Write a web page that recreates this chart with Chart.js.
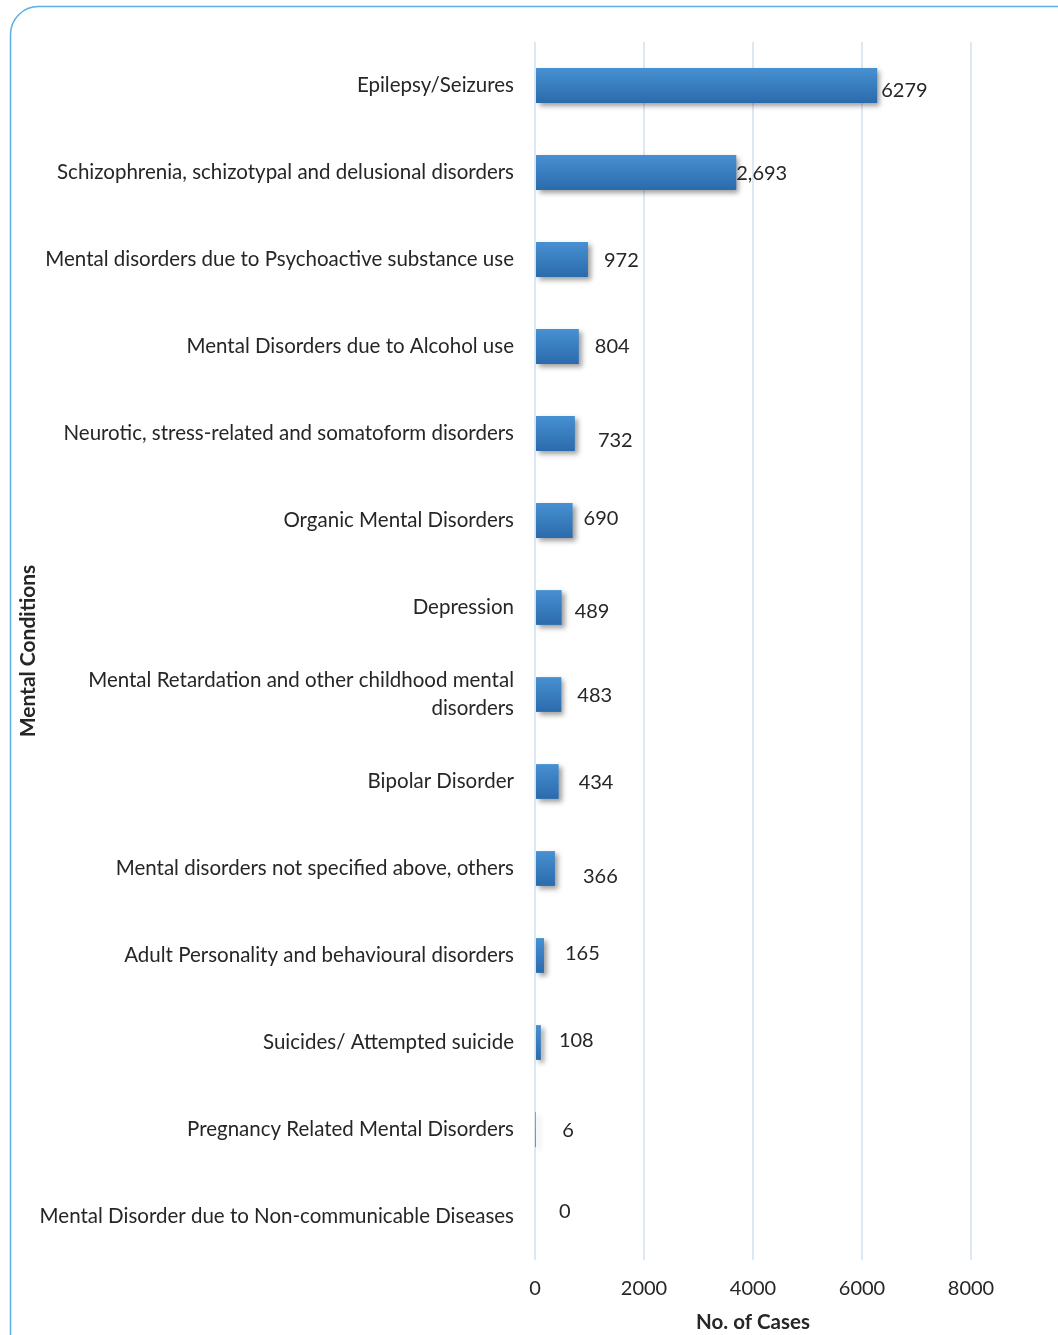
<!DOCTYPE html>
<html>
<head>
<meta charset="utf-8">
<script src="https://cdn.jsdelivr.net/npm/chart.js@4.4.1/dist/chart.umd.min.js"></script>
<style>
  html, body { margin: 0; padding: 0; background: #ffffff; }
  #wrap { width: 1058px; height: 1335px; position: relative; }
</style>
</head>
<body>
<div id="wrap"><canvas id="c" width="1058" height="1335"></canvas></div>
<script>
// ---- data ----
const categories = [
  'Epilepsy/Seizures',
  'Schizophrenia, schizotypal and delusional disorders',
  'Mental disorders due to Psychoactive substance use',
  'Mental Disorders due to Alcohol use',
  'Neurotic, stress-related and somatoform disorders',
  'Organic Mental Disorders',
  'Depression',
  ['Mental Retardation and other childhood mental', 'disorders'],
  'Bipolar Disorder',
  'Mental disorders not specified above, others',
  'Adult Personality and behavioural disorders',
  'Suicides/ Attempted suicide',
  'Pregnancy Related Mental Disorders',
  'Mental Disorder due to Non-communicable Diseases'
];
const caseCounts = [6279, 3693, 972, 804, 732, 690, 489, 483, 434, 366, 165, 108, 6, 0];
const valueLabels = ['6279', '2,693', '972', '804', '732', '690', '489', '483', '434', '366', '165', '108', '6', '0'];
const xTicks = [0, 2000, 4000, 6000, 8000];

// ---- styling (label nudges from the bar end, px) ----
const labelNudge = [[4,5],[0,1],[16,1],[16,0],[23,7],[11,-2],[13,4],[16,1],[20,1],[28,8],[21,-2],[18,-2],[27,1],[24,-5]];

const FONT = 'Lato, "Open Sans", sans-serif';
const TEXT = '#262626';

const framePlugin = {
  id: 'frame',
  beforeDraw(chart) {
    const ctx = chart.ctx;
    ctx.save();
    ctx.fillStyle = '#ffffff';
    ctx.fillRect(0, 0, chart.width, chart.height);
    ctx.strokeStyle = '#5fade8';
    ctx.lineWidth = 1.5;
    ctx.beginPath();
    ctx.roundRect(10.5, 6.5, 1200, 1500, 28);
    ctx.stroke();
    ctx.restore();
  }
};

const shadowPlugin = {
  id: 'barShadow',
  beforeDatasetsDraw(chart) {
    const ctx = chart.ctx;
    ctx.save();
    ctx.shadowColor = 'rgba(0,0,0,0.38)';
    ctx.shadowBlur = 5;
    ctx.shadowOffsetX = 3;
    ctx.shadowOffsetY = 3;
  },
  afterDatasetsDraw(chart) {
    chart.ctx.restore();
    const ctx = chart.ctx;
    const meta = chart.getDatasetMeta(0);
    ctx.save();
    ctx.font = '20px ' + FONT;
    ctx.fillStyle = TEXT;
    ctx.textAlign = 'left';
    ctx.textBaseline = 'middle';
    meta.data.forEach((bar, i) => {
      const n = labelNudge[i] || [0, 0];
      ctx.fillText(valueLabels[i], bar.x + n[0], bar.y + n[1]);
    });
    ctx.restore();
  }
};

function barFill(c) {
  const ch = c.chart;
  const ys = ch.scales && ch.scales.y;
  if (!ys || !ch.chartArea || c.dataIndex === undefined) return '#3a7fc1';
  const y = ys.getPixelForValue(c.dataIndex);
  if (!isFinite(y)) return '#3a7fc1';
  const h = 18;
  const g = ch.ctx.createLinearGradient(0, y - h, 0, y + h);
  g.addColorStop(0, '#4791d2');
  g.addColorStop(1, '#2a6aab');
  return g;
}

const ctx = document.getElementById('c').getContext('2d');
new Chart(ctx, {
  type: 'bar',
  data: {
    labels: categories,
    datasets: [{
      data: caseCounts,
      backgroundColor: barFill,
      borderWidth: 0,
      categoryPercentage: 1,
      barPercentage: 0.40
    }]
  },
  options: {
    indexAxis: 'y',
    responsive: false,
    animation: false,
    devicePixelRatio: 1,
    layout: { padding: { left: 0, right: 87, top: 42, bottom: 0 } },
    plugins: { legend: { display: false }, tooltip: { enabled: false } },
    scales: {
      x: {
        min: 0, max: 8000,
        afterBuildTicks(scale) { scale.ticks = xTicks.map(v => ({ value: v })); },
        afterFit(scale) { scale.height = 75; },
        grid: { color: '#dce8f4', lineWidth: 2, drawTicks: false },
        border: { display: false },
        ticks: { color: TEXT, font: { family: FONT, size: 20 }, padding: 17,
                 callback: v => String(v) },
        title: { display: true, text: 'No. of Cases', color: TEXT,
                 font: { family: FONT, size: 20.5, weight: 'bold' }, padding: { top: 3, bottom: 0 } }
      },
      y: {
        afterFit(scale) { scale.width = 535; },
        grid: { display: false, drawTicks: false },
        border: { display: false },
        ticks: { color: TEXT, font: { family: FONT, size: 20.5, lineHeight: 1.36 }, padding: 21, autoSkip: false },
        title: { display: true, text: 'Mental Conditions', color: TEXT,
                 font: { family: FONT, size: 21, weight: 'bold' }, padding: { top: 16, bottom: 0 } }
      }
    }
  },
  plugins: [framePlugin, shadowPlugin]
});
</script>
</body>
</html>
